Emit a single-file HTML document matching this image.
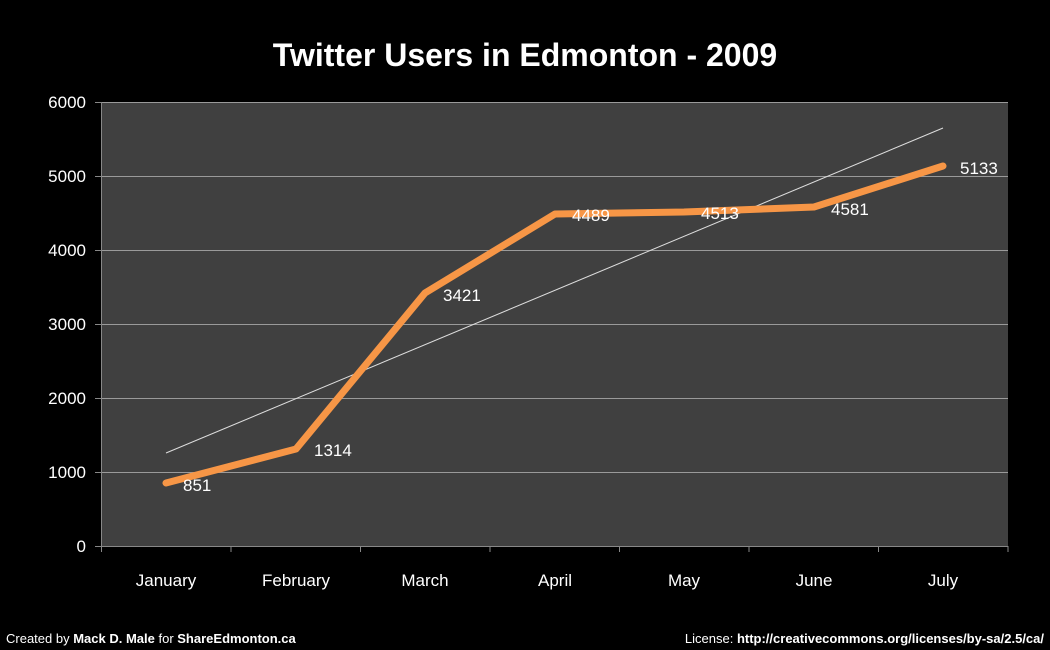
<!DOCTYPE html>
<html><head><meta charset="utf-8"><style>
html,body{margin:0;padding:0;background:#000;}
svg{display:block;font-family:"Liberation Sans",sans-serif;}
</style></head><body>
<svg width="1050" height="650" viewBox="0 0 1050 650">
<rect width="1050" height="650" fill="#000"/>
<text x="525" y="66" fill="#fff" font-size="32" font-weight="bold" text-anchor="middle">Twitter Users in Edmonton - 2009</text>
<rect x="101" y="102" width="907" height="444" fill="#404040"/>
<g stroke="#9a9a9a" stroke-width="1">
<line x1="101" y1="102.5" x2="1008" y2="102.5"/>
<line x1="101" y1="176.5" x2="1008" y2="176.5"/>
<line x1="101" y1="250.5" x2="1008" y2="250.5"/>
<line x1="101" y1="324.5" x2="1008" y2="324.5"/>
<line x1="101" y1="398.5" x2="1008" y2="398.5"/>
<line x1="101" y1="472.5" x2="1008" y2="472.5"/>
</g>
<g stroke="#888" stroke-width="1">
<line x1="101.5" y1="102" x2="101.5" y2="546"/>
<line x1="95" y1="546.5" x2="1008" y2="546.5"/>
<line x1="95" y1="102.5" x2="101" y2="102.5"/>
<line x1="95" y1="176.5" x2="101" y2="176.5"/>
<line x1="95" y1="250.5" x2="101" y2="250.5"/>
<line x1="95" y1="324.5" x2="101" y2="324.5"/>
<line x1="95" y1="398.5" x2="101" y2="398.5"/>
<line x1="95" y1="472.5" x2="101" y2="472.5"/>
<line x1="101.5" y1="546" x2="101.5" y2="552"/>
<line x1="231" y1="546" x2="231" y2="552"/>
<line x1="360.5" y1="546" x2="360.5" y2="552"/>
<line x1="490" y1="546" x2="490" y2="552"/>
<line x1="619.5" y1="546" x2="619.5" y2="552"/>
<line x1="749" y1="546" x2="749" y2="552"/>
<line x1="878.5" y1="546" x2="878.5" y2="552"/>
<line x1="1008" y1="546" x2="1008" y2="552"/>
</g>
<g fill="#fff" font-size="17" text-anchor="end">
<text x="86" y="108">6000</text>
<text x="86" y="182">5000</text>
<text x="86" y="256">4000</text>
<text x="86" y="330">3000</text>
<text x="86" y="404">2000</text>
<text x="86" y="478">1000</text>
<text x="86" y="552">0</text>
</g>
<g fill="#fff" font-size="17" text-anchor="middle">
<text x="166" y="586">January</text>
<text x="296" y="586">February</text>
<text x="425" y="586">March</text>
<text x="555" y="586">April</text>
<text x="684" y="586">May</text>
<text x="814" y="586">June</text>
<text x="943" y="586">July</text>
</g>
<line x1="166" y1="453" x2="943" y2="128" stroke="#ddd" stroke-width="1"/>
<polyline points="166,483 296,449 425,293 555,214 684,212 814,207 943,166" fill="none" stroke="#f79646" stroke-width="7" stroke-linejoin="round" stroke-linecap="round"/>
<g fill="#fff" font-size="17">
<text x="183" y="491">851</text>
<text x="314" y="456">1314</text>
<text x="443" y="301">3421</text>
<text x="572" y="221">4489</text>
<text x="701" y="219">4513</text>
<text x="831" y="215">4581</text>
<text x="960" y="174">5133</text>
</g>
<text x="6" y="643" fill="#fff" font-size="13">Created by <tspan font-weight="bold">Mack D. Male</tspan> for <tspan font-weight="bold">ShareEdmonton.ca</tspan></text>
<text x="1044" y="643" fill="#fff" font-size="13" text-anchor="end">License: <tspan font-weight="bold">http://creativecommons.org/licenses/by-sa/2.5/ca/</tspan></text>
</svg>
</body></html>
